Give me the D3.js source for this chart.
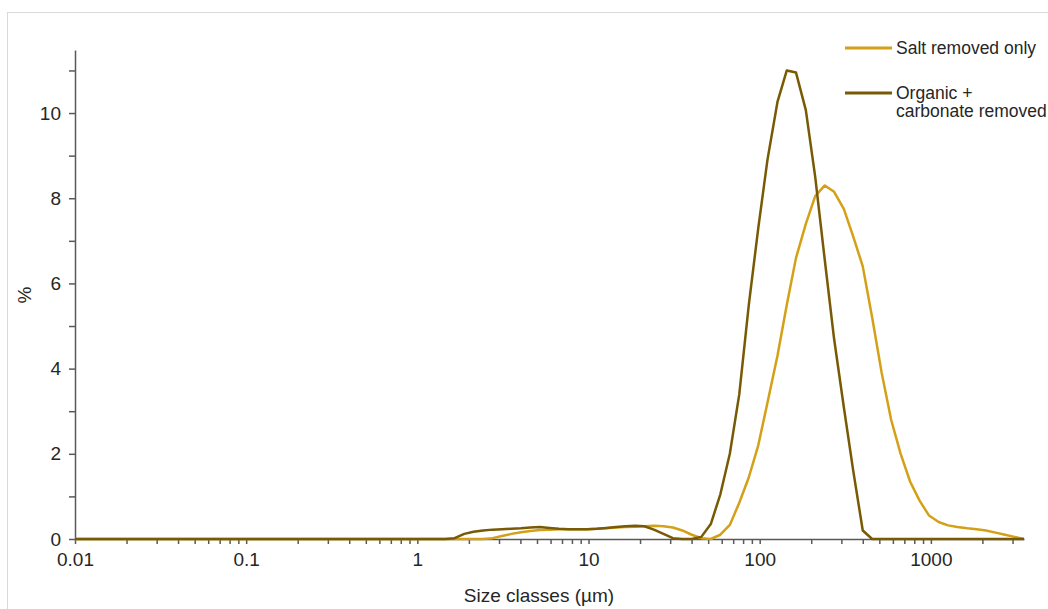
<!DOCTYPE html>
<html>
<head>
<meta charset="utf-8">
<script src="https://cdn.jsdelivr.net/npm/d3@7"></script>
<style>
	body { margin: 0; background: #fff; }
	text { font-family: "Liberation Sans", Arial, sans-serif; fill: #262626; }
</style>
</head>
<body>
<svg id="chart"></svg>
<script>
// size classes in um (only 0 between 0.01 and 1.28)
var sizes = [0.01, 1.28, 1.45, 1.65, 1.88, 2.13, 2.42, 2.75, 3.12, 3.55, 4.03, 4.58, 5.21, 5.92, 6.72, 7.64, 8.68, 9.86,
	11.2, 12.7, 14.5, 16.4, 18.7, 21.2, 24.1, 27.4, 31.1, 35.3, 40.1, 45.6, 51.8, 58.9, 66.9, 76, 86.4, 98.1,
	111, 127, 144, 163, 186, 211, 240, 272, 310, 352, 400, 454, 516, 586, 666, 756, 859, 976,
	1110, 1260, 1430, 1630, 1850, 2100, 2390, 2710, 3080, 3500];

// volume % per class
var saltOnly = [0, 0, 0, 0, 0, 0, 0, 0.02, 0.07, 0.12, 0.16, 0.19, 0.21, 0.22, 0.23, 0.23, 0.23, 0.23,
	0.24, 0.25, 0.27, 0.28, 0.29, 0.3, 0.31, 0.3, 0.27, 0.2, 0.1, 0.02, 0, 0.1, 0.33, 0.85, 1.45, 2.2,
	3.2, 4.3, 5.5, 6.6, 7.4, 8.05, 8.3, 8.15, 7.75, 7.1, 6.4, 5.2, 3.9, 2.8, 2.0, 1.35, 0.9, 0.55,
	0.4, 0.32, 0.28, 0.25, 0.23, 0.2, 0.15, 0.1, 0.05, 0];

var organicCarb = [0, 0, 0, 0.02, 0.12, 0.17, 0.2, 0.22, 0.23, 0.24, 0.25, 0.27, 0.28, 0.26, 0.24, 0.23, 0.23, 0.23,
	0.24, 0.26, 0.28, 0.3, 0.31, 0.3, 0.22, 0.12, 0.02, 0, 0, 0.05, 0.35, 1.05, 2.0, 3.4, 5.5, 7.3,
	8.9, 10.26, 11.0, 10.95, 10.07, 8.5, 6.55, 4.7, 3.1, 1.6, 0.2, 0, 0, 0, 0, 0, 0, 0,
	0, 0, 0, 0, 0, 0, 0, 0, 0, 0];

var seriesNames = ["Salt removed only", ["Organic +", "carbonate removed"]];
var seriesColors = ["#d4a017", "#785a04"];

var xTicksMajor = [0.01, 0.1, 1, 10, 100, 1000];
var yTicks = [0, 2, 4, 6, 8, 10];
var yTicksMinor = [1, 3, 5, 7, 9, 11];

// size of the picture
var W = 1048, H = 609;
var margin = { top: 50, left: 75, right: 24, bottom: 70 };

var svg = d3.select("#chart").attr("width", W).attr("height", H);

// light frame round the chart area
svg.append("rect")
	.attr("x", 7.5).attr("y", 12.5)
	.attr("width", W + 20).attr("height", H + 20)
	.attr("fill", "none")
	.attr("stroke", "#d9d9d9");

// scales
var xscale = d3.scaleLog().domain([0.01, 3500]).range([margin.left, W - margin.right]);
var yscale = d3.scaleLinear().domain([0, 11.48]).range([H - margin.bottom, margin.top]);

// all log ticks 1..9 per decade
var xTicksAll = [];
xTicksMajor.forEach(function(d) {
	for (var k = 1; k < 10; k++) {
		if (d * k <= 3500) xTicksAll.push(d * k);
	}
});

var xaxis = d3.axisBottom(xscale)
	.tickValues(xTicksAll)
	.tickSize(5)
	.tickPadding(9)
	.tickSizeOuter(0)
	.tickFormat(function(d) {
		return xTicksMajor.indexOf(d) >= 0 ? String(d) : "";
	});

var yaxis = d3.axisLeft(yscale)
	.tickValues(yTicks.concat(yTicksMinor))
	.tickSize(6)
	.tickPadding(8)
	.tickSizeOuter(0)
	.tickFormat(function(d) {
		return yTicks.indexOf(d) >= 0 ? d : "";
	});

var gx = svg.append("g")
	.attr("transform", "translate(0," + yscale(0) + ")")
	.call(xaxis);

var gy = svg.append("g")
	.attr("transform", "translate(" + margin.left + ",0)")
	.call(yaxis);

[gx, gy].forEach(function(g) {
	g.selectAll("path, line").attr("stroke", "#595959").attr("stroke-width", 1.5);
	g.selectAll("text").attr("font-size", 19).attr("fill", "#262626")
		.attr("font-family", "'Liberation Sans', Arial, sans-serif");
});

// axis titles
svg.append("text")
	.attr("x", 539).attr("y", 602)
	.attr("text-anchor", "middle")
	.attr("font-size", 19)
	.text("Size classes (\u00b5m)");

svg.append("text")
	.attr("transform", "translate(31,295) rotate(-90)")
	.attr("text-anchor", "middle")
	.attr("font-size", 19)
	.text("%");

// lines
var line = d3.line()
	.x(function(d) { return xscale(d[0]); })
	.y(function(d) { return yscale(d[1]); });

[saltOnly, organicCarb].forEach(function(vals, i) {
	svg.append("path")
		.datum(sizes.map(function(s, j) { return [s, vals[j]]; }))
		.attr("d", line)
		.attr("fill", "none")
		.attr("stroke", seriesColors[i])
		.attr("stroke-width", 2.5)
		.attr("stroke-linejoin", "round");
});

// legend
var legendY = [48, 93];
seriesNames.forEach(function(name, i) {
	svg.append("line")
		.attr("x1", 845).attr("x2", 892)
		.attr("y1", legendY[i]).attr("y2", legendY[i])
		.attr("stroke", seriesColors[i])
		.attr("stroke-width", 3);
	var lines = Array.isArray(name) ? name : [name];
	var t = svg.append("text")
		.attr("x", 896).attr("y", legendY[i] + 6)
		.attr("font-size", 17.5);
	lines.forEach(function(l, k) {
		t.append("tspan").attr("x", 896).attr("dy", k === 0 ? 0 : 18).text(l);
	});
});
</script>
</body>
</html>
